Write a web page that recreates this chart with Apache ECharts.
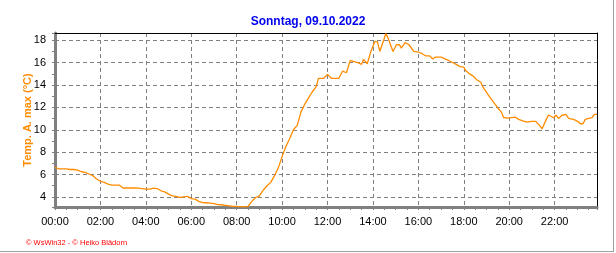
<!DOCTYPE html>
<html><head><meta charset="utf-8">
<script src="https://cdn.jsdelivr.net/npm/echarts@6/dist/echarts.min.js"></script>
<style>
html,body{margin:0;padding:0;background:#fff;}
#frame{position:absolute;left:0;top:0;width:613px;height:251px;border-right:1px solid #a0a0a0;border-bottom:1px solid #a0a0a0;}
#chart{position:absolute;left:0;top:0;width:616px;height:253px;}
</style></head><body>
<div id="frame"></div>
<div id="chart"></div>
<script>
const chartTitle = 'Sonntag, 09.10.2022';
const yAxisName = 'Temp. A. max (°C)';
const footerText = '\u00A9 WsWin32 - \u00A9 Heiko Blädorn';

const times = ['00:00','00:10','00:20','00:30','00:40','00:50','01:00','01:10','01:20','01:30','01:40','01:50',
'02:00','02:10','02:20','02:30','02:40','02:50','03:00','03:10','03:20','03:30','03:40','03:50',
'04:00','04:10','04:20','04:30','04:40','04:50','05:00','05:10','05:20','05:30','05:40','05:50',
'06:00','06:10','06:20','06:30','06:40','06:50','07:00','07:10','07:20','07:30','07:40','07:50',
'08:00','08:10','08:20','08:30','08:40','08:50','09:00','09:10','09:20','09:30','09:40','09:50',
'10:00','10:10','10:20','10:30','10:40','10:50','11:00','11:10','11:20','11:30','11:36','11:40','11:50',
'12:00','12:10','12:20','12:30','12:40','12:50','13:00','13:10','13:20','13:30','13:35','13:45','13:55',
'14:05','14:12','14:18','14:28','14:34','14:40','14:53','15:02','15:10','15:15','15:25','15:35','15:40','15:48',
'16:00','16:10','16:20','16:30','16:38','16:45','17:00','17:15','17:28','17:40','17:50',
'18:00','18:05','18:15','18:25','18:35','18:45','18:50','19:00','19:10','19:20','19:30','19:40','19:45','19:55',
'20:00','20:15','20:25','20:38','20:45','20:52','20:58','21:10','21:18','21:27','21:30','21:38','21:44','21:48','21:57',
'22:04','22:10','22:20','22:30','22:37','22:50','23:00','23:08','23:15','23:21','23:30','23:39','23:45','23:52'];

const temps = [6.65,6.5,6.5,6.5,6.45,6.45,6.4,6.25,6.2,6.05,5.9,5.6,
5.4,5.3,5.15,5.05,5.05,5.05,4.8,4.8,4.8,4.8,4.78,4.75,
4.7,4.7,4.78,4.75,4.55,4.45,4.25,4.1,4.05,3.95,4.0,4.05,
3.85,3.8,3.6,3.5,3.48,3.45,3.4,3.32,3.3,3.25,3.2,3.15,
3.15,3.12,3.12,3.15,3.6,3.95,4.1,4.6,5.0,5.3,5.9,6.6,
7.6,8.5,9.2,10.0,10.4,11.6,12.3,12.85,13.4,13.85,14.6,14.5,14.6,
14.95,14.6,14.6,14.6,15.25,15.1,16.2,16.1,16.0,15.85,16.3,15.9,17.05,
17.9,17.85,17.0,17.95,18.6,18.2,17.0,17.6,17.6,17.3,17.8,17.6,17.55,17.0,
16.95,16.8,16.6,16.6,16.33,16.5,16.5,16.27,16.06,15.85,15.65,
15.6,15.3,15.0,14.8,14.45,14.25,13.85,13.35,12.85,12.4,11.95,11.55,11.1,11.05,
11.15,11.14,10.93,10.78,10.7,10.7,10.75,10.75,10.48,10.09,10.09,10.93,11.32,11.38,11.08,
11.32,11.02,11.3,11.38,11.02,10.93,10.78,10.54,10.54,10.93,11.02,11.08,11.38,11.38];

const xTickLabels = ['00:00','02:00','04:00','06:00','08:00','10:00','12:00','14:00','16:00','18:00','20:00','22:00'];
const yTickLabels = ['4','6','8','10','12','14','16','18'];

const toMin = s => { const p = s.split(':'); return (+p[0]) * 60 + (+p[1]); };
const seriesData = times.map((t, i) => [toMin(t), temps[i]]);

const font = 'Liberation Sans, Arial, sans-serif';
const gridGray = '#808080';

const chart = echarts.init(document.getElementById('chart'), null, {renderer: 'canvas'});
chart.setOption({
  animation: false,
  backgroundColor: 'transparent',
  title: [
    {text: chartTitle, left: 'center', top: 11,
     textStyle: {color: '#0000ee', fontSize: 12, fontWeight: 'bold', fontFamily: font}},
    {text: footerText, left: 21, top: 234,
     textStyle: {color: '#ff0000', fontSize: 7.5, fontWeight: 'normal', fontFamily: font}}
  ],
  grid: {left: 55, right: 19, top: 33, bottom: 46, containLabel: false},
  xAxis: [{
    type: 'value', min: 0, max: 1432, interval: 120,
    axisLine: {show: true, lineStyle: {color: gridGray, width: 3}},
    axisTick: {show: true, length: 3, lineStyle: {color: gridGray, width: 1}},
    minorTick: {show: true, splitNumber: 4, length: 3, lineStyle: {color: gridGray, width: 1}},
    axisLabel: {
      show: true, margin: 9, color: '#000', fontSize: 11, fontFamily: font,
      showMaxLabel: false,
      formatter: v => { const k = Math.round(v / 120); return (Math.abs(v - k * 120) < 1e-6 && xTickLabels[k]) ? xTickLabels[k] : ''; }
    },
    splitLine: {show: true, lineStyle: {color: gridGray, width: 1, type: [4, 3]}}
  }, {
    type: 'value', min: 0, max: 1432, position: 'top',
    axisLine: {show: true, onZero: false, lineStyle: {color: '#000', width: 1}},
    axisTick: {show: false}, axisLabel: {show: false}, splitLine: {show: false}
  }],
  yAxis: [{
    type: 'value', min: 3.1, max: 18.65, splitNumber: 8,
    name: yAxisName, nameLocation: 'middle', nameGap: 22, nameMoveOverlap: false,
    nameTextStyle: {color: '#ff8c00', fontSize: 11, fontWeight: 'bold', fontFamily: font},
    axisLine: {show: true, lineStyle: {color: gridGray, width: 3}},
    axisTick: {show: true, length: 3, lineStyle: {color: gridGray, width: 1}},
    minorTick: {show: true, splitNumber: 2, length: 3, lineStyle: {color: gridGray, width: 1}},
    axisLabel: {
      show: true, margin: 9, color: '#000', fontSize: 11, fontFamily: font,
      showMinLabel: false, showMaxLabel: false,
      formatter: v => { const s = String(Math.round(v)); return (Math.abs(v - Math.round(v)) < 1e-6 && yTickLabels.indexOf(s) >= 0) ? s : ''; }
    },
    splitLine: {show: true, lineStyle: {color: gridGray, width: 1, type: [4, 3]}}
  }, {
    type: 'value', min: 3.1, max: 18.65, position: 'right',
    axisLine: {show: true, onZero: false, lineStyle: {color: '#000', width: 1}},
    axisTick: {show: false}, axisLabel: {show: false}, splitLine: {show: false}
  }],
  series: [{
    type: 'line', xAxisIndex: 0, yAxisIndex: 0,
    data: seriesData, showSymbol: false, symbol: 'none',
    lineStyle: {color: '#ff8c00', width: 1.3},
    z: 5
  }]
});
</script>
</body></html>
